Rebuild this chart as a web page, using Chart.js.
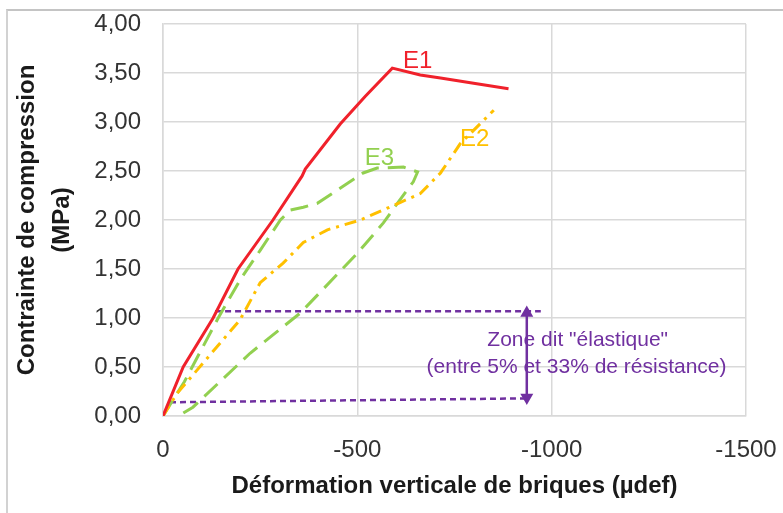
<!DOCTYPE html>
<html>
<head>
<meta charset="utf-8">
<script src="https://cdn.jsdelivr.net/npm/chart.js@4"></script>
<style>
  body { margin: 0; background: #fff; }
  #wrap { position: relative; width: 783px; height: 513px; }
  #frame { position: absolute; left: 6px; top: 9px; right: 0; bottom: 0;
           border-top: 2px solid #c4c4c4; border-left: 2px solid #d2d2d2; }
  canvas { position: absolute; left: 0; top: 0; }
</style>
</head>
<body>
<div id="wrap">
  <div id="frame"></div>
  <canvas id="chart" width="783" height="513"></canvas>
</div>
<script>
// strain (µdef) and stress (MPa)
var e1X = [0, -52, -129, -193, -283, -358, -366, -456, -520, -590, -662, -714, -791, -889];
var e1Y = [0, 0.5, 1.0, 1.5, 2.0, 2.45, 2.52, 2.98, 3.26, 3.55, 3.48, 3.45, 3.40, 3.34];

var e2X = [0, -36, -103, -198, -250, -309, -361, -423, -508, -611, -662, -714, -765, -851];
var e2Y = [0, 0.23, 0.54, 0.98, 1.36, 1.56, 1.77, 1.9, 2.0, 2.18, 2.27, 2.48, 2.78, 3.12];

var e3X = [0, -55, -142, -200, -250, -302, -327, -361, -397, -515, -551, -619, -655, -644, -603, -567, -500, -353, -224, -77, -40];
var e3Y = [0, 0.35, 1.0, 1.4, 1.69, 2.0, 2.1, 2.13, 2.17, 2.48, 2.53, 2.54, 2.49, 2.39, 2.17, 1.97, 1.66, 1.05, 0.64, 0.09, 0];

// "elastic" zone limits and the arrow between them
var zoneTopX = [-134, -972];
var zoneTopY = [1.07, 1.07];
var zoneBotX = [-18, -940];
var zoneBotY = [0.14, 0.18];
var arrowX = [-936, -936];
var arrowY = [1.05, 0.19];

var xTicks = [0, -500, -1000, -1500];
var yTicks = [0, 0.5, 1, 1.5, 2, 2.5, 3, 3.5, 4];

function pts(xs, ys) {
    return xs.map(function (x, i) { return {x: x, y: ys[i]}; });
}

const RED = '#f0212b';
const ORANGE = '#ffc000';
const GREEN = '#92d050';
const PURPLE = '#7030a0';
const FONT = '"Liberation Sans", Arial, sans-serif';

const labelsPlugin = {
    id: 'labels',
    afterDatasetsDraw(chart) {
        const ctx = chart.ctx;
        const xs = chart.scales.x, ys = chart.scales.y;
        function txt(s, x, y, color, size) {
            ctx.save();
            ctx.font = size + 'px ' + FONT;
            ctx.fillStyle = color;
            ctx.textAlign = 'center';
            ctx.textBaseline = 'middle';
            ctx.fillText(s, xs.getPixelForValue(x), ys.getPixelForValue(y));
            ctx.restore();
        }
        txt('E1', -655, 3.62, RED, 24);
        txt('E2', -802, 2.82, ORANGE, 24);
        txt('E3', -557, 2.63, GREEN, 24);
        txt('Zone dit "élastique"', -1067, 0.776, PURPLE, 21);
        txt('(entre 5% et 33% de résistance)', -1064, 0.50, PURPLE, 21);
    }
};

new Chart(document.getElementById('chart'), {
    type: 'scatter',
    data: {
        datasets: [
            {label: 'E1', data: pts(e1X, e1Y), borderColor: RED, borderWidth: 3, showLine: true, pointRadius: 0},
            {label: 'E2', data: pts(e2X, e2Y), borderColor: ORANGE, borderWidth: 3, borderDash: [12, 6, 3, 6], showLine: true, pointRadius: 0},
            {label: 'E3', data: pts(e3X, e3Y), borderColor: GREEN, borderWidth: 3, borderDash: [18, 9], showLine: true, pointRadius: 0},
            {label: 'top', data: pts(zoneTopX, zoneTopY), borderColor: PURPLE, borderWidth: 2.5, borderDash: [6, 4], showLine: true, pointRadius: 0},
            {label: 'bot', data: pts(zoneBotX, zoneBotY), borderColor: PURPLE, borderWidth: 2.5, borderDash: [6, 4], showLine: true, pointRadius: 0},
            {label: 'arrow', data: pts(arrowX, arrowY), borderColor: PURPLE, backgroundColor: PURPLE, borderWidth: 2.5,
             showLine: true, pointStyle: 'triangle', pointRadius: 5, rotation: [0, 180]}
        ]
    },
    options: {
        responsive: false,
        animation: false,
        layout: {padding: {top: 24, right: 37, left: 0, bottom: 0}},
        scales: {
            x: {
                type: 'linear',
                min: -1500,
                max: 0,
                reverse: true,
                afterBuildTicks: function (s) { s.ticks = xTicks.map(function (v) { return {value: v}; }); },
                afterFit: function (s) { s.height = 97; s.paddingLeft = 0; s.paddingRight = 0; },
                ticks: {
                    color: '#333',
                    padding: 20,
                    font: {size: 24, family: FONT},
                    callback: function (v) { return String(v); }
                },
                grid: {color: '#d9d9d9', lineWidth: 1.5, drawTicks: false},
                border: {color: '#d9d9d9', width: 1.5},
                title: {
                    display: true,
                    text: 'Déformation verticale de briques (µdef)',
                    color: '#1a1a1a',
                    font: {size: 24, weight: 'bold', family: FONT},
                    padding: {top: 0, bottom: 12}
                }
            },
            y: {
                min: 0,
                max: 4,
                afterBuildTicks: function (s) { s.ticks = yTicks.map(function (v) { return {value: v}; }); },
                afterFit: function (s) { s.width = 163; s.paddingTop = 0; s.paddingBottom = 0; },
                ticks: {
                    color: '#333',
                    padding: 22,
                    font: {size: 24, family: FONT},
                    callback: function (v) { return v.toFixed(2).replace('.', ','); }
                },
                grid: {color: '#d9d9d9', lineWidth: 1.5, drawTicks: false},
                border: {color: '#d9d9d9', width: 1.5},
                title: {
                    display: true,
                    text: ['Contrainte de compression', '(MPa)'],
                    color: '#1a1a1a',
                    font: {size: 24, weight: 'bold', family: FONT, lineHeight: 1.45},
                    padding: {top: 10, bottom: 0}
                }
            }
        },
        plugins: {
            legend: {display: false},
            tooltip: {enabled: false}
        }
    },
    plugins: [labelsPlugin]
});
</script>
</body>
</html>
